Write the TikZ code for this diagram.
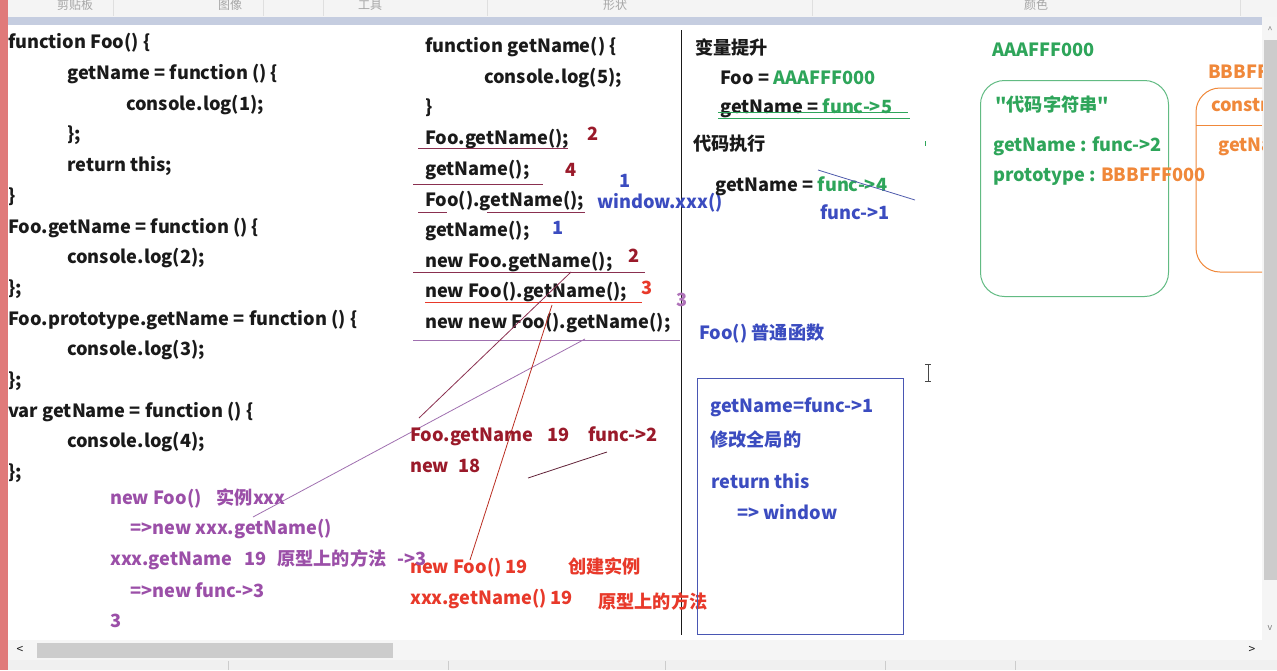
\documentclass[tikz,border=0pt]{standalone}
\usepackage{fontspec}
\setmainfont{Noto Sans CJK SC}
\newfontfamily\plainf{Noto Sans CJK SC}
\usetikzlibrary{calc}
\definecolor{ink}{HTML}{1A1A1A}
\definecolor{dred}{HTML}{9A1A2A}
\definecolor{rred}{HTML}{E8392A}
\definecolor{blu}{HTML}{3B4CC0}
\definecolor{purp}{HTML}{9B4FA8}
\definecolor{grn}{HTML}{2EA55A}
\definecolor{orng}{HTML}{F0883A}
\definecolor{pline}{HTML}{A070B0}
\definecolor{dline}{HTML}{8A3050}
\definecolor{tbar}{HTML}{F4F4F4}
\definecolor{strip}{HTML}{C5CDE0}
\definecolor{edge}{HTML}{E07A7A}
\begin{document}
\begin{tikzpicture}[x=1pt,y=-1pt,
  txt/.style={anchor=west,inner sep=0pt,font=\bfseries\fontsize{18.2}{19}\selectfont,text=ink},
  tb/.style={inner sep=0pt,font=\fontsize{12}{12}\selectfont,text=gray!70},
  uline/.style={line width=1pt},
  thin/.style={line width=0.8pt}]
\useasboundingbox (0,0) rectangle (1277,670);
% window chrome
\fill[white] (0,0) rectangle (1277,670);
\fill[tbar] (0,0) rectangle (1277,17);
\fill[strip] (0,17) rectangle (1262,25);
\foreach \x in {113,263,323,487,812,1240} \draw[gray!25] (\x,0) -- (\x,16);
\node[tb] (tb1) at (75,5) {剪贴板};
\node[tb] (tb2) at (230,5) {图像};
\node[tb] (tb3) at (370,5) {工具};
\node[tb] (tb4) at (615,5) {形状};
\node[tb] (tb5) at (1036,5) {颜色};
\fill[edge] (0,0) rectangle (8,670);
% right scrollbar
\fill[gray!8] (1262,17) rectangle (1277,640);
\fill[gray!40] (1264,40) rectangle (1277,580);
\node[inner sep=0pt,font=\fontsize{9}{9}\selectfont,text=gray] (ua) at (1270,30) {\^{}};
\node[inner sep=0pt,font=\fontsize{9}{9}\selectfont,text=gray] (da) at (1270,628) {v};
% bottom scrollbar
\fill[gray!8] (8,640) rectangle (1277,660);
\fill[gray!40] (37,643) rectangle (393,658);
\node[inner sep=0pt,font=\fontsize{12}{12}\selectfont,text=ink] (la) at (20,650) {\textless};
\node[inner sep=0pt,font=\fontsize{12}{12}\selectfont,text=ink] (ra) at (1252,650) {\textgreater};
\fill[gray!12] (8,660) rectangle (1277,670);
\foreach \x in {228,448,665,885,1015} \draw[gray!40] (\x,661) -- (\x,670);
% divider
\draw[ink,line width=1pt] (681,30) -- (681,635);
% ---------- left code ----------
\node[txt] (a1) at (8,43) {function Foo() \{};
\node[txt] (a2) at (67,74) {getName = function () \{};
\node[txt] (a3) at (126,105) {console.log(1);};
\node[txt] (a4) at (67,135) {\};};
\node[txt] (a5) at (67,166) {return this;};
\node[txt] (a6) at (8,197) {\}};
\node[txt] (a7) at (8,228) {Foo.getName = function () \{};
\node[txt] (a8) at (67,258) {console.log(2);};
\node[txt] (a9) at (8,289) {\};};
\node[txt] (a10) at (8,320) {Foo.prototype.getName = function () \{};
\node[txt] (a11) at (67,350) {console.log(3);};
\node[txt] (a12) at (8,381) {\};};
\node[txt] (a13) at (8,412) {var getName = function () \{};
\node[txt] (a14) at (67,442) {console.log(4);};
\node[txt] (a15) at (8,473) {\};};
% ---------- middle code ----------
\node[txt] (b1) at (425,47) {function getName() \{};
\node[txt] (b2) at (484,78) {console.log(5);};
\node[txt] (b3) at (425,108) {\}};
\node[txt] (b4) at (425,139) {Foo.getName();};
\node[txt] (b5) at (425,170) {getName();};
\node[txt] (b6) at (425,201) {Foo().getName();};
\node[txt] (b7) at (425,231) {getName();};
\node[txt] (b8) at (425,262) {new Foo.getName();};
\node[txt] (b9) at (425,292) {new Foo().getName();};
\node[txt] (b10) at (425,323) {new new Foo().getName();};
\node[txt,text=dred] (n1) at (587,134) {2};
\node[txt,text=dred] (n2) at (565,170) {4};
\node[txt,text=blu] (n3) at (619,181) {1};
\node[txt,text=blu] (n4) at (597,203) {window.xxx()};
\node[txt,text=blu] (n5) at (552,228) {1};
\node[txt,text=dred] (n6) at (628,256) {2};
\node[txt,text=rred] (n7) at (641,288) {3};
\node[txt,text=purp!80] (n8) at (676,300) {3};
% underlines
\coordinate (u1a) at (418,148); \coordinate (u1b) at (568,148);
\coordinate (u2a) at (413,184); \coordinate (u2b) at (543,184);
\coordinate (u3a) at (418,212); \coordinate (u3b) at (447,212);
\coordinate (u4a) at (487,212); \coordinate (u4b) at (585,212);
\coordinate (u5a) at (413,272); \coordinate (u5b) at (645,272);
\coordinate (u6a) at (425,302); \coordinate (u6b) at (642,302);
\coordinate (u7a) at (413,340); \coordinate (u7b) at (680,340);
\draw[uline,dline] (u1a) -- (u1b);
\draw[uline,dline] (u2a) -- (u2b);
\draw[uline,dline] (u3a) -- (u3b);
\draw[uline,dline] (u4a) -- (u4b);
\draw[uline,dline] (u5a) -- (u5b);
\draw[uline,rred] (u6a) -- (u6b);
\draw[uline,pline] (u7a) -- (u7b);
% diagonal strokes
\coordinate (d1a) at (571,272); \coordinate (d1b) at (419,418);
\coordinate (d2a) at (585,339); \coordinate (d2b) at (253,517);
\coordinate (d3a) at (552,305); \coordinate (d3b) at (470,560);
\coordinate (d4a) at (528,478); \coordinate (d4b) at (607,452);
\draw[thin,dline] (d1a) -- (d1b);
\draw[thin,pline] (d2a) -- (d2b);
\draw[thin,rred!80!black] (d3a) -- (d3b);
\draw[thin,dline!70!black] (d4a) -- (d4b);
% bottom middle notes
\node[txt,text=dred] (c1) at (410,436) {Foo.getName\hspace{14pt}19\hspace{19pt}func->2};
\node[txt,text=dred] (c2) at (410,466) {new\hspace{9pt}18};
\node[txt,text=rred] (c3) at (410,568) {new Foo() 19};
\node[txt,text=rred] (c4) at (568,566) {创建实例};
\node[txt,text=rred] (c5) at (410,599) {xxx.getName() 19};
\node[txt,text=rred] (c6) at (598,601) {原型上的方法};
% bottom left purple notes
\node[txt,text=purp] (p1) at (110,498) {new Foo()\hspace{15pt}实例xxx};
\node[txt,text=purp] (p2) at (130,529) {=>new xxx.getName()};
\node[txt,text=purp] (p3) at (110,560) {xxx.getName\hspace{12pt}19\hspace{11pt}原型上的方法\hspace{11pt}->3};
\node[txt,text=purp] (p4) at (130,590) {=>new func->3};
\node[txt,text=purp] (p5) at (110,621) {3};
% ---------- right of divider ----------
\node[txt] (r1) at (695,47) {变量提升};
\node[txt] (r2) at (720,78) {Foo = \textcolor{grn}{AAAFFF000}};
\node[txt] (r3) at (720,108) {getName = \textcolor{grn}{func->5}};
\coordinate (s1a) at (718,112); \coordinate (s1b) at (908,112);
\coordinate (s2a) at (718,118); \coordinate (s2b) at (910,118);
\draw[uline,grn] (s1a) -- (s1b);
\draw[uline,grn] (s2a) -- (s2b);
\node[txt] (r4) at (693,144) {代码执行};
\coordinate (g1) at (925,141); \coordinate (g2) at (925,146);
\draw[grn,line width=1pt] (g1) -- (g2);
\node[txt] (r5) at (715,186) {getName = \textcolor{grn}{func->4}};
\coordinate (s3a) at (818,170); \coordinate (s3b) at (915,200);
\draw[thin,blu!70!gray] (s3a) -- (s3b);
\node[txt,text=blu] (r6) at (820,212) {func->1};
\node[txt,text=blu] (r7) at (699,334) {Foo() 普通函数};
\node[draw=blu!80!gray,line width=1pt,minimum width=206pt,minimum height=256pt,inner sep=0pt,anchor=north west] (box) at (697,378) {};
\node[txt,text=blu] (k1) at (710,407) {getName=func->1};
\node[txt,text=blu] (k2) at (710,440) {修改全局的};
\node[txt,text=blu] (k3) at (711,481) {return this};
\node[txt,text=blu] (k4) at (737,512) {=> window};
% text cursor (I-beam)
\coordinate (c1t) at (928,364); \coordinate (c1b) at (928,381);
\draw[ink!80,line width=1pt] (c1t) -- (c1b);
\draw[ink!80,line width=1pt] ($(c1t)+(-3,0)$) -- ($(c1t)+(3,0)$);
\draw[ink!80,line width=1pt] ($(c1b)+(-3,0)$) -- ($(c1b)+(3,0)$);
% green object
\node[txt,text=grn] (g0) at (992,50) {AAAFFF000};
\node[draw=grn!75,line width=1pt,rounded corners=24pt,minimum width=188pt,minimum height=216pt,inner sep=0pt,anchor=north west] (gbox) at (980,80) {};
\node[txt,text=grn,font=\plainf\bfseries\fontsize{18.2}{19}\selectfont] (g3) at (995,105) {"代码字符串"};
\node[txt,text=grn] (g4) at (993,146) {getName : func->2};
\node[txt,text=grn] (g5) at (993,177) {prototype : \textcolor{orng}{BBBFFF000}};
% orange object, cut off at the canvas edge as in the screenshot
\begin{scope}
\clip (1100,30) rectangle (1262,300);
\node[txt,text=orng] (o0) at (1208,72) {BBBFFF000};
\draw[orng,line width=1pt,rounded corners=24pt] (1300,88) -- (1196,88) -- (1196,272) -- (1300,272);
\coordinate (ol1) at (1196,125); \coordinate (ol2) at (1262,125);
\draw[orng,line width=1pt] (ol1) -- (ol2);
\node[txt,text=orng] (o1) at (1211,105) {constructor};
\node[txt,text=orng] (o2) at (1218,147) {getName};
\end{scope}
\end{tikzpicture}
\end{document}
